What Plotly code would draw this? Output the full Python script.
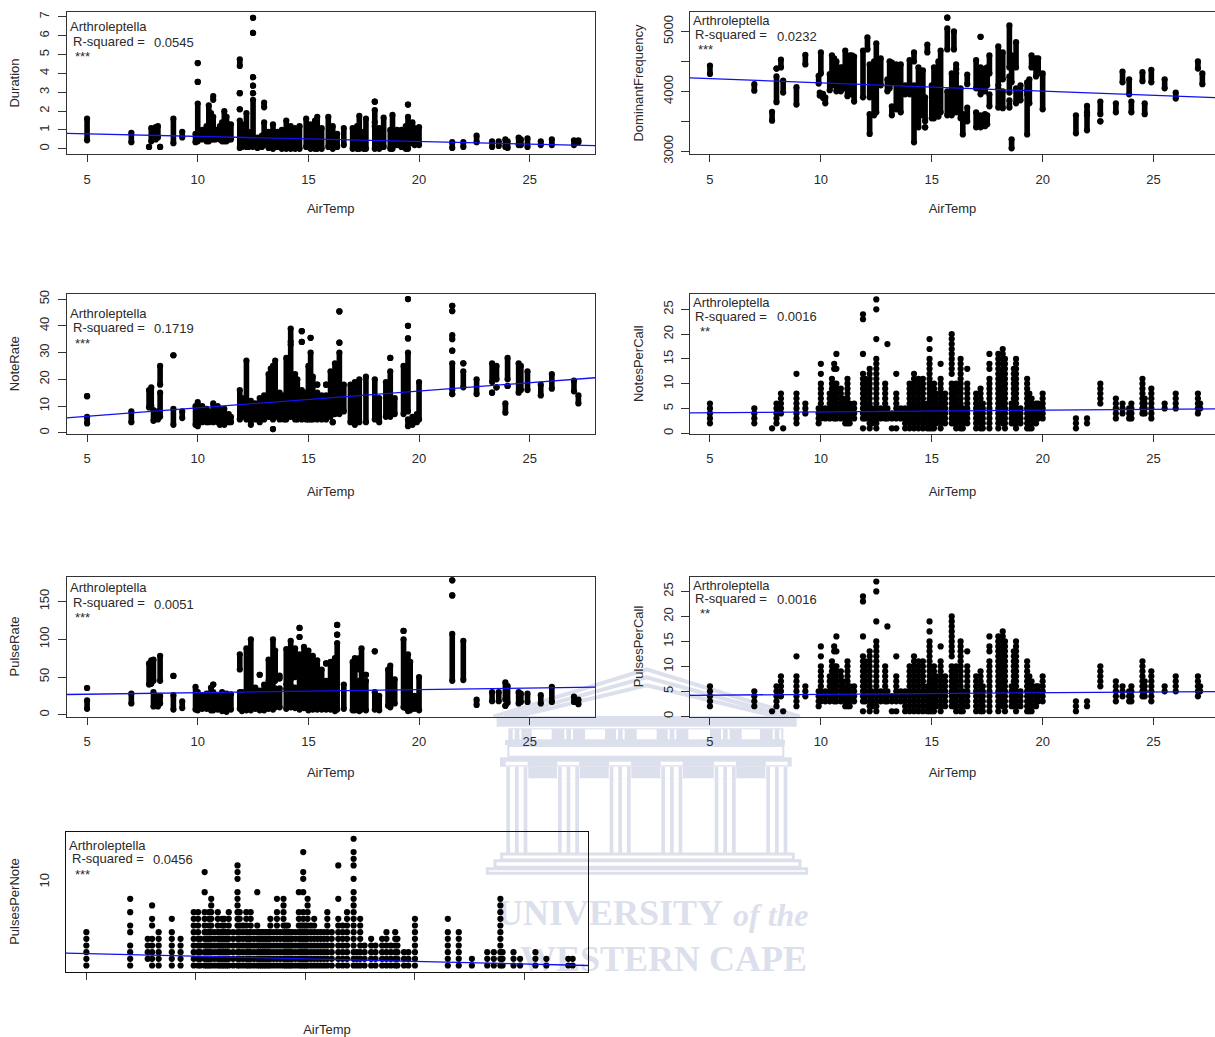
import plotly.graph_objects as go

# ---------- data: (AirTemp, low, high) for each column of points ----------
duration_cols = [(5,.45,1.6),(7,.35,.85),(7.8,.1,.1),(7.9,.4,1.1),(8.1,.5,1.15),(8.2,.6,1.2),(8.3,.1,.1),(8.9,.3,1.6),(9.3,.6,.9),(9.9,.35,.8),
 (10,.4,2.4),(10,3.55,3.55),(10,4.55,4.55),(10.2,.5,1.0),(10.4,.4,1.2),(10.5,.4,2.3),(10.6,.5,1.9),(10.7,.5,1.7),(10.7,2.6,2.8),(10.8,.5,1.0),(11,.5,1.2),(11.1,.4,1.4),(11.2,.4,2.0),(11.3,.4,1.7),(11.4,.5,1.3),(11.5,.5,1.3),
 (11.9,.05,1.5),(11.9,2.1,2.1),(11.9,2.95,2.95),(11.9,4.4,4.75),(12,.1,1.3),(12.2,.1,1.9),(12.3,.1,.9),(12.5,.1,2.6),(12.5,2.95,2.95),(12.5,3.35,3.35),(12.5,3.8,3.8),(12.5,6.15,6.15),(12.5,6.95,6.95),
 (12.7,.05,.6),(12.9,.1,.7),(13,.2,1.4),(13,2.2,2.45),(13.2,.05,.9),(13.4,0,1.3),(13.6,.1,.9),(13.8,0,1.0),(14,0,1.5),(14.2,0,1.2),(14.4,0,1.1),(14.6,0,1.2),(14.9,.1,1.6),(15.1,0,1.3),(15.3,0,1.5),(15.4,0,1.7),(15.6,0,1.1),(15.9,.1,1.7),(16.1,0,1.2),(16.3,.1,.8),(16.6,.2,1.1),
 (17,0,1.1),(17.2,0,1.2),(17.3,0,1.75),(17.5,0,.9),(17.6,0,1.6),(18,0,1.2),(18,1.4,2.05),(18,2.5,2.5),(18.2,0,1.1),(18.4,.1,1.65),(18.7,0,1),(18.8,0,1.8),(19,.2,1),(19.2,.1,1),(19.4,0,1.2),(19.5,0,1.7),(19.5,2.35,2.35),(19.7,.3,1.4),(19.8,.2,1.1),(20,.2,1.15),
 (21.5,.05,.35),(22,.1,.35),(22.6,.35,.7),(23.3,.1,.4),(23.6,.15,.4),(23.9,.1,.5),(24,.05,.4),(24.5,.2,.6),(24.6,.2,.5),(24.9,.1,.55),(25.5,.2,.4),(26,.2,.5),(27,.2,.45),(27.2,.35,.45)]

frequency_cols = [(5,4290,4430),(7,4010,4120),(7.8,3510,3660),(8,3820,4250),(8,4380,4380),(8.2,4400,4530),(8.3,3980,4180),(8.9,3780,4070),(9.3,4450,4610),(9.9,4130,4260),
 (10,4300,4650),(9.95,3930,3980),(10.1,3890,3960),(10.2,3800,3900),(10.4,4020,4290),(10.5,4100,4600),(10.6,4300,4550),(10.7,4000,4500),(10.9,4000,4400),(11,4050,4400),(11.1,4050,4680),(11.2,3920,4300),(11.3,4200,4600),(11.4,3950,4600),(11.5,3830,4580),
 (11.9,3900,4680),(12.1,4700,4900),(12.2,3900,4450),(12.2,3290,3620),(12.4,3600,4500),(12.5,3650,4800),(12.7,4100,4550),(13,4000,4200),(13.1,4050,4500),(13.2,3600,3750),(13.2,4150,4480),(13.4,3700,4450),(13.6,3650,4450),(13.8,3950,4100),
 (14,3950,4520),(14.2,3150,4100),(14.2,4500,4650),(14.4,3400,4400),(14.6,3600,4350),(14.7,3400,3400),(14.7,3500,3900),(14.8,4650,4780),(15,3550,4100),(15.1,3550,4400),(15.3,3580,4500),(15.4,3650,4680),(15.7,3600,4000),(15.7,4700,5050),(15.7,5230,5230),(15.9,3600,4300),(16,4700,5000),(16.1,3650,4300),(16.1,4370,4450),(16.3,3550,4050),(16.4,3280,3620),(16.6,3500,3730),(16.6,4120,4280),
 (17,3400,3650),(17,4050,4520),(17.2,3400,3600),(17.2,3950,4400),(17.2,4910,4910),(17.4,3420,3620),(17.4,4000,4380),(17.5,3450,3600),(17.5,4100,4400),(17.6,3750,3950),(17.6,4300,4600),(18,3730,4050),(18,4100,4750),(18.2,3720,4000),(18.2,4200,4650),(18.5,3730,3850),(18.5,3980,4250),(18.5,4400,5100),(18.6,3050,3200),(18.6,4150,4600),(18.8,3800,4050),(18.8,4400,4820),
 (19,3850,4100),(19.3,3280,3950),(19.3,4000,4150),(19.4,3800,4200),(19.5,4400,4600),(19.7,4250,4550),(19.8,4300,4550),(20,3700,4300),(21.5,3300,3600),(22,3350,3600),(22,3650,3760),(22.6,3500,3500),(22.6,3620,3830),(23.3,3650,3800),(23.6,4150,4330),(23.9,3950,4200),(24,3650,3830),(24.5,4170,4320),(24.6,3620,3800),(24.9,4150,4360),(25.5,4050,4200),(26,3880,3980),(27,4380,4500),(27.2,4120,4300)]

note_rate_cols = [(5,3.5,6),(5,13.7,13.7),(7,4,8),(7.8,9.5,16),(7.9,10,17),(8,4.5,8.5),(8.2,5,8),(8.3,6,15),(8.3,18,25),(8.9,3,9),(8.9,29,29),(9.3,5.5,8),(9.9,3,10),(10,2.5,11.5),(10.2,4,10),(10.4,4,9),(10.5,4,8),(10.7,4,11),(10.9,4,10),(11,3,9),(11.2,3,9),(11.4,4,7),(11.5,4,6),
 (11.9,5,16),(12,6,13),(12.2,5,27),(12.4,3,12),(12.6,5,11),(12.8,4,13),(13,5,14),(13.2,6,22),(13.3,6,24),(13.4,1.4,1.4),(13.4,5,25),(13.5,6,27),(13.7,5,15),(13.9,5,14),(14,5,28),(14.2,6,33),(14.2,34,39),(14.4,5,22),(14.5,5,20),(14.7,5,16),(14.7,34,34),(14.7,38,38),(14.9,5,15),(15,5,25),(15.1,5,30),(15.1,35.5,35.5),(15.2,5,21),(15.4,5,15),(15.4,18,18),(15.6,5,14),(15.8,5,14),(15.8,18,18),(16,6,23),(16.1,4,4),(16.2,7,26),(16.4,7,30),(16.4,33.7,33.7),(16.4,45.4,45.4),(16.6,8,18),(16.9,4,18),
 (17.1,3,19),(17.3,4,20),(17.6,4,21),(18,5,20),(18.2,4,13),(18.5,6,19),(18.7,6,23),(18.7,28,28),(18.9,7,13),(19.3,7,25),(19.5,2.5,5),(19.5,8,30),(19.5,35.3,35.3),(19.5,40,40),(19.5,50,50),(19.7,3,6),(19.9,4,7),(20,5,19),
 (21.5,14.5,14.5),(21.5,16,26),(21.5,30.7,30.7),(21.5,35,36.5),(21.5,45.5,45.5),(21.5,47.5,47.5),(22,17,23),(22,26,26),(22.6,14.5,20),(23.3,15,15),(23.3,19,26),(23.5,17,17),(23.5,20,25),(23.9,7.5,11),(24,17.5,17.5),(24,20,28),(24.5,15,26),(24.6,16,25),(24.9,16,23),(25.5,14,18),(26,16.5,22),(27,15.5,19.5),(27.2,11,14)]

pulse_rate_cols = [(5,8,19),(5,35.5,35.5),(7,15,28),(7.8,40,68),(7.9,41,72),(8,11,30),(8,45,73),(8.2,11,25),(8.3,15,25),(8.3,45,78),(8.9,7,26),(8.9,51.5,51.5),(9.3,9,18),(9.9,7,37),(10,6,30),(10.2,8,25),(10.4,8,28),(10.6,6,36),(10.7,6,30),(10.7,40,40),(10.9,7,25),(11.1,5,30),(11.3,4,28),(11.5,7,27),
 (11.9,8,30),(11.9,60,80),(12,5,30),(12.2,6,88),(12.4,6,100),(12.6,8,36),(12.8,6,32),(12.8,53,53),(13,6,40),(13.2,8,40),(13.2,45,73),(13.4,7,36),(13.4,42,100),(13.5,10,35),(13.5,45,85),(13.7,10,35),(13.7,48,52),(14,8,35),(14,40,87),(14.2,10,40),(14.2,45,98),(14.4,9,36),(14.4,50,88),(14.6,7,80),(14.6,103,103),(14.6,115,115),(14.8,9,90),(15,6,85),(15.2,7,78),(15.4,7,72),(15.6,7,60),(15.8,7,45),(15.8,68,68),(16,7,70),(16.2,5,75),(16.3,7,95),(16.3,106,106),(16.3,119,119),(16.6,8,40),
 (17,6,70),(17.1,6,75),(17.3,5,45),(17.3,60,75),(17.4,7,88),(17.6,6,45),(17.6,53,53),(18,7,30),(18,84,84),(18.2,6,25),(18.6,12,60),(18.7,10,65),(18.9,15,47),(19.3,10,100),(19.3,111,111),(19.4,9,60),(19.5,5,80),(19.6,6,70),(19.8,8,25),(20,6,50),
 (21.5,45,107),(21.5,158,158),(21.5,178,178),(22,46,98),(22.6,13,20),(23.3,18,30),(23.6,18,30),(23.9,12,12),(23.9,20,43),(24,16,38),(24.5,15,30),(24.6,17,28),(24.9,17,28),(25.5,15,26),(26,17,37),(27,17,24),(27.2,14,20)]

# count variables: (AirTemp, first count, last count); every whole count in between has a dot
notes_per_call_cols = [(5,2,6),(7,2,5),(7.8,1,1),(8,2,6),(8.2,4,8),(8.3,1,1),(8.9,2,8),(8.9,12,12),(9.3,4,6),(9.9,2,5),(10,3,10),(10,12,12),(10,14,14),(10.2,3,5),(10.4,3,8),(10.5,4,11),(10.6,3,10),(10.6,13,14),(10.7,3,10),(10.7,13,13),(10.7,16,16),(10.9,3,9),(11,4,7),(11.1,2,5),(11.2,2,11),(11.3,2,6),(11.5,3,6),
 (11.9,1,1),(11.9,3,12),(11.9,16,16),(11.9,23,24),(12,3,11),(12.2,1,13),(12.3,2,5),(12.5,1,15),(12.5,19,19),(12.5,25,25),(12.5,27,27),(12.7,3,5),(12.9,3,10),(13,3,5),(13,18,18),(13.2,1,1),(13.2,3,4),(13.4,1,1),(13.4,3,8),(13.4,12,12),(13.6,3,5),(13.8,1,5),(14,1,10),(14.2,1,12),(14.4,1,11),(14.6,1,11),(14.8,1,6),(14.9,1,15),(14.9,17,17),(14.9,19,19),(15,1,7),(15.1,1,10),(15.2,2,8),(15.4,1,11),(15.4,14,14),(15.6,2,8),(15.9,2,10),(15.9,12,20),(16,2,9),(16.1,1,10),(16.3,1,15),(16.4,1,5),(16.6,2,10),(16.6,13,13),
 (17,1,8),(17.2,1,9),(17.3,1,6),(17.6,1,11),(17.6,13,14),(17.6,16,16),(18,1,16),(18.1,3,12),(18.2,2,17),(18.3,1,15),(18.6,2,6),(18.7,2,13),(18.8,1,15),(19,2,5),(19.3,1,11),(19.4,1,8),(19.5,1,7),(19.7,2,6),(19.8,3,6),(20,3,8),
 (21.5,1,3),(22,2,3),(22.6,6,10),(23.3,3,7),(23.6,4,6),(23.9,3,5),(24,3,6),(24.5,4,11),(24.6,4,7),(24.9,3,9),(25.5,5,6),(26,5,8),(27,4,8),(27.1,5,6)]
pulses_per_call_cols = notes_per_call_cols

pulses_per_note_cols = [(5,1,6),(7,1,4),(7,6,7),(7,9,9),(7,11,11),(7.8,2,5),(8,1,5),(8,7,8),(8,10,10),(8.3,1,6),(8.9,1,6),(8.9,8,8),(9.3,1,5),(9.9,1,9),(10.1,1,9),(10.2,1,5),(10.4,1,9),(10.4,12,12),(10.4,15,15),(10.5,1,6),(10.6,1,9),(10.7,1,11),(10.85,1,6),(11,1,9),(11.1,1,6),(11.2,1,8),(11.3,1,8),(11.4,1,6),(11.5,1,9),(11.7,1,6),
 (11.9,1,12),(11.9,14,16),(12,1,9),(12.15,1,7),(12.3,1,9),(12.4,1,6),(12.5,1,9),(12.65,1,6),(12.8,1,7),(12.8,12,12),(12.9,1,6),(13,1,6),(13.1,1,6),(13.2,1,6),(13.3,1,6),(13.4,1,8),(13.55,1,6),(13.7,1,9),(13.7,11,11),(13.85,1,6),(14,1,11),(14.1,1,7),(14.2,1,7),(14.3,1,6),(14.4,1,6),(14.55,1,6),(14.7,1,9),(14.7,12,12),(14.8,1,7),(14.9,1,9),(14.9,12,12),(14.9,14,15),(14.9,18,18),(15,1,7),(15.1,1,11),(15.25,1,7),(15.4,1,8),(15.55,1,6),(15.7,1,6),(15.85,1,6),(16,1,9),(16.2,1,6),
 (16.5,1,8),(16.5,11,11),(16.5,16,16),(16.7,1,7),(16.9,1,9),(17.2,1,12),(17.2,14,14),(17.2,16,18),(17.2,20,20),(17.35,1,3),(17.5,1,8),(17.7,1,4),(18,1,5),(18.2,1,4),(18.5,1,5),(18.7,1,6),(18.9,1,4),(19.1,1,6),(19.2,1,5),(19.5,1,3),(19.7,1,3),(20,1,8),
 (21.5,1,6),(21.5,8,8),(22,1,6),(22.6,1,2),(23.3,1,3),(23.6,1,3),(23.9,1,11),(24,1,3),(24.5,1,3),(24.8,1,2),(25.5,1,3),(26,1,2),(27,1,2),(27.2,1,2)]

# fitted lines: y at the left and right edge of each panel
duration_fit = [0.82, 0.17]
frequency_fit = [4224, 3894]
note_rate_fit = [5.6, 20.6]
notes_per_call_fit = [4.1, 4.9]
pulse_rate_fit = [26.9, 36.6]
pulses_per_call_fit = [4.2, 4.95]
pulses_per_note_fit = [2.85, 1.0]

genus = "Arthroleptella"
r_squared = ["0.0545", "0.0232", "0.1719", "0.0016", "0.0051", "0.0016", "0.0456"]
stars = ["***", "***", "***", "**", "***", "**", "***"]
y_names = ["Duration", "DominantFrequency", "NoteRate", "NotesPerCall", "PulseRate", "PulsesPerCall", "PulsesPerNote"]
x_ticks = [5, 10, 15, 20, 25]
y_tick_vals = [[0,1,2,3,4,5,6,7], [3000,3500,4000,4500,5000], [0,10,20,30,40,50], [0,5,10,15,20,25], [0,50,100,150], [0,5,10,15,20,25], [13.5]]
y_tick_text = [["0","1","2","3","4","5","6","7"], ["3000","","4000","","5000"], ["0","10","20","30","40","50"], ["0","5","10","15","20","25"], ["0","50","100","150"], ["0","5","10","15","20","25"], ["10"]]

W, H = 1215, 1037
INK = "#2a2a2a"
FONT = "Liberation Sans, Arial, sans-serif"
PALE = "#dcdfec"

# layout: box px (l, r, t, b), x range, y range, text rows px, AirTemp title gap
panels = [
 dict(cols=duration_cols, fit=duration_fit, box=(66.5,595,12,154), xr=(4.07,27.95), yr=(-0.275,7.26), txt=[(69,26),(71.5,41),(153,42),(74,56)], dots=False, gap=18),
 dict(cols=frequency_cols, fit=frequency_fit, box=(690,1215,12,154), xr=(4.1,27.77), yr=(2955,5324), txt=[(692,20),(694,34),(776,36),(697,49)], dots=False, gap=18),
 dict(cols=note_rate_cols, fit=note_rate_fit, box=(66.5,595,294,433.5), xr=(4.07,27.95), yr=(-0.25,51.9), txt=[(69,313),(72,327),(153,328),(74,343)], dots=False, gap=21),
 dict(cols=notes_per_call_cols, fit=notes_per_call_fit, box=(690,1215,294,433.5), xr=(4.1,27.77), yr=(-0.05,28.1), txt=[(692,302),(694,316),(776,316),(699,331)], dots=True, gap=21),
 dict(cols=pulse_rate_cols, fit=pulse_rate_fit, box=(66.5,595,576.5,716.5), xr=(4.07,27.95), yr=(-2.2,183), txt=[(69,587),(72,602),(153,604),(74,617)], dots=False, gap=19),
 dict(cols=pulses_per_call_cols, fit=pulses_per_call_fit, box=(690,1215,576.5,716.5), xr=(4.1,27.77), yr=(-0.05,28), txt=[(692,585),(694,598),(776,599),(699,613)], dots=True, gap=19),
 dict(cols=pulses_per_note_cols, fit=pulses_per_note_fit, box=(66,588,831.5,971.5), xr=(4.07,27.9), yr=(0.1,21.09), txt=[(68,845),(71,858),(152,859),(74,874)], dots=True, gap=47),
]

fig = go.Figure()
layout = dict(
    width=W, height=H, margin=dict(l=0, r=0, t=0, b=0, pad=0, autoexpand=False), autosize=False, showlegend=False,
    paper_bgcolor="white", plot_bgcolor="rgba(0,0,0,0)",
    font=dict(family=FONT, size=13, color=INK),
    xaxis=dict(domain=[0,1], range=[0,W], visible=False, fixedrange=True),
    yaxis=dict(domain=[0,1], range=[H,0], visible=False, fixedrange=True),
)

# ---------- background crest (page-pixel subplot, drawn first) ----------
shapes = []
def zx(v): return 480 + v/3
def zy(v): return 660 + v/3
def rect(x0, y0, x1, y1, fill=PALE):
    shapes.append(dict(type="rect", xref="x", yref="y", layer="below", x0=zx(x0), x1=zx(x1), y0=zy(y0), y1=zy(y1), fillcolor=fill, line=dict(width=0)))
def frame(x0, y0, x1, y1, w=2):
    shapes.append(dict(type="rect", xref="x", yref="y", layer="below", x0=zx(x0), x1=zx(x1), y0=zy(y0), y1=zy(y1), line=dict(color=PALE, width=w)))
for off in (0, 24, 48):
    shapes.append(dict(type="path", xref="x", yref="y", layer="below",
        path=f"M {zx(40+off*1.4)} {zy(170)} L {zx(500)} {zy(28+off)} L {zx(960-off*1.4)} {zy(170)}",
        line=dict(color=PALE, width=4)))
rect(50,168,950,200)
rect(85,205,910,240)
for a, b in [(155,215),(315,375),(470,530),(625,690),(785,840)]:
    rect(a,208,b,238,"white")
for c in (110,265,420,575,735,890):
    rect(c-12,208,c-6,238,"white"); rect(c+8,208,c+14,238,"white")
rect(75,240,915,255)
frame(85,258,910,290)
rect(60,292,935,320)
rect(145,320,860,355)
for c in (110,265,420,575,735,890):
    rect(c-33,305,c+33,316,"white")
    rect(c-34,320,c+34,355,"white")
    for d in (-28,-2,24):
        rect(c+d-3,320,c+d+8,580)
frame(65,582,940,600,3); frame(45,602,960,622,3); frame(22,626,980,640,3)
layout["shapes"] = shapes

fig.add_trace(go.Scatter(x=[497, 733, 807], y=[916, 918, 962], mode="text",
    text=["<b>UNIVERSITY</b>", "<b><i>of the</i></b>", "<b>WESTERN CAPE</b>"],
    textposition=["middle right", "middle right", "middle left"],
    textfont=dict(family="Liberation Serif, serif", size=[36, 32, 36], color=PALE),
    hoverinfo="skip", xaxis="x", yaxis="y", cliponaxis=False))

annotations = []
for i, p in enumerate(panels):
    n = i + 2
    xa, ya = f"x{n}", f"y{n}"
    l, r, t, b = p["box"]
    xs, ys = [], []
    if p["dots"]:
        for tv, lo, hi in p["cols"]:
            for v in range(lo, hi + 1):
                xs.append(tv); ys.append(v)
        fig.add_trace(go.Scatter(x=xs, y=ys, mode="markers", marker=dict(color="black", size=6.2),
                                 hoverinfo="skip", xaxis=xa, yaxis=ya, cliponaxis=False))
    else:
        for tv, lo, hi in p["cols"]:
            xs += [tv, tv, None]; ys += [lo, hi, None]
        fig.add_trace(go.Scatter(x=xs, y=ys, mode="lines+markers", line=dict(color="black", width=5.6),
                                 marker=dict(color="black", size=6.2),
                                 hoverinfo="skip", xaxis=xa, yaxis=ya, cliponaxis=False))
    fig.add_trace(go.Scatter(x=list(p["xr"]), y=p["fit"], mode="lines", line=dict(color="#1010f0", width=1.3),
                             hoverinfo="skip", xaxis=xa, yaxis=ya))
    is_open = r >= W
    last = i == 6
    layout[f"xaxis{n}"] = dict(domain=[l/W, r/W], range=list(p["xr"]), anchor=ya, tickmode="array", tickvals=x_ticks,
        showticklabels=not last, ticks="outside", ticklen=7, tickwidth=1, tickcolor="#333", showgrid=False, zeroline=False,
        showline=True, mirror=True, linecolor="#333" if not last else "#111", linewidth=1,
        tickfont=dict(size=13, color=INK), fixedrange=True, ticklabelstandoff=6,
        title=dict(text="AirTemp", standoff=p["gap"], font=dict(size=13, color=INK)))
    layout[f"yaxis{n}"] = dict(domain=[(H-b)/H, (H-t)/H], range=list(p["yr"]), anchor=xa, tickmode="array",
        tickvals=y_tick_vals[i], ticktext=y_tick_text[i], tickangle=-90,
        ticks="" if last else "outside", ticklen=8, tickwidth=1, tickcolor="#333", showgrid=False, zeroline=False,
        showline=True, mirror=not is_open, linecolor="#333" if not last else "#111", linewidth=1,
        tickfont=dict(size=13, color=INK), fixedrange=True, ticklabelstandoff=3 if not last else 11,
        title=dict(text=y_names[i], standoff=14, font=dict(size=13, color=INK)))
    labels = [genus, "R-squared =", r_squared[i], stars[i]]
    for (tx, ty), s in zip(p["txt"], labels):
        annotations.append(dict(xref="x", yref="y", x=tx, y=ty, text=s, showarrow=False, xanchor="left", yanchor="middle",
                                xshift=-1, font=dict(size=13, color=INK)))
layout["annotations"] = annotations
fig.update_layout(**layout)

fig.write_html("out.html", config=dict(displayModeBar=False, responsive=False),
               post_script="document.body.style.margin='0';document.body.style.overflow='hidden';")
